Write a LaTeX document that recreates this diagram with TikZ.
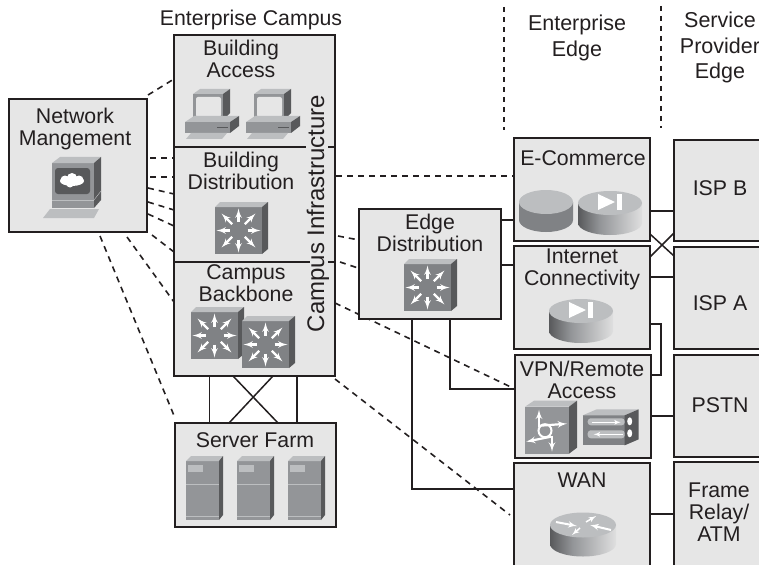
\documentclass[tikz,border=0pt]{standalone}
\usepackage{fontspec}
\setmainfont{Liberation Sans}
\usepackage{tikz}
\usetikzlibrary{arrows, backgrounds}

\definecolor{ink}{HTML}{231F20}
\definecolor{panel}{HTML}{E6E6E6}
\definecolor{face}{HTML}{939598}
\definecolor{swface}{HTML}{808285}
\definecolor{lid}{HTML}{BCBEC0}
\definecolor{flank}{HTML}{58595B}
\pgfdeclarehorizontalshading{cylshade}{100bp}{color(0bp)=(flank); color(25bp)=(flank); color(42bp)=(face); color(78bp)=(panel); color(88bp)=(face); color(100bp)=(flank)}

\begin{document}
\begin{tikzpicture}[x=1pt,y=-1pt]
        \tikzset{box/.style = {shape=rectangle,draw=ink,fill=panel,line width=1.8pt,inner sep=0pt,outer sep=0pt}}
        \tikzset{txt/.style = {text=ink,align=center,inner sep=0pt,font=\fontsize{21.3}{22}\selectfont}}
        \tikzset{toptxt/.style = {txt,font=\fontsize{21.5}{25.5}\selectfont}}
        \tikzset{edge/.style = {-,draw=ink,line width=1.7pt}}
        \tikzset{thin edge/.style = {-,draw=ink,line width=1.5pt}}
        \tikzset{link/.style = {-,draw=ink,line width=1.6pt,dash pattern=on 6pt off 5pt}}
        \tikzset{spoke/.style = {-latex',draw=white,line width=2.2pt}}
        \tikzset{switchicon/.pic = {
            \fill[swface] (0,5) rectangle (47,52);
            \fill[lid] (0,5) -- (5,0) -- (53,0) -- (47,5) -- cycle;
            \fill[flank] (47,5) -- (53,0) -- (53,47) -- (47,52) -- cycle;
            \draw[spoke] (23.5,28.5) ++(0:9) -- ++(0:13);
            \draw[spoke] (23.5,28.5) ++(45:9) -- ++(45:15);
            \draw[spoke] (23.5,28.5) ++(90:9) -- ++(90:13);
            \draw[spoke] (23.5,28.5) ++(135:9) -- ++(135:15);
            \draw[spoke] (23.5,28.5) ++(180:9) -- ++(180:13);
            \draw[spoke] (23.5,28.5) ++(225:9) -- ++(225:15);
            \draw[spoke] (23.5,28.5) ++(270:9) -- ++(270:13);
            \draw[spoke] (23.5,28.5) ++(315:9) -- ++(315:15);
        }}
        \tikzset{pcicon/.pic = {
            \fill[face] (8,5) rectangle (38,31);
            \fill[lid] (8,5) -- (15,0) -- (45,0) -- (38,5) -- cycle;
            \fill[flank] (38,5) -- (45,0) -- (45,24) -- (38,31) -- cycle;
            \fill[panel,rounded corners=2pt] (11,8) rectangle (36,28);
            \fill[face] (0,33) rectangle (45,44);
            \fill[lid] (0,33) -- (9,27) -- (54,27) -- (45,33) -- cycle;
            \fill[flank] (45,33) -- (54,27) -- (54,37) -- (45,44) -- cycle;
            \fill[flank] (32,38) rectangle (43,39.5);
            \fill[lid] (1,50) -- (6,44) -- (42,44) -- (37,50) -- cycle;
        }}
        \tikzset{nmsicon/.pic = {
            \fill[face] (9,6) rectangle (51,51);
            \fill[lid] (9,6) -- (17,0) -- (58,0) -- (51,6) -- cycle;
            \fill[flank] (51,6) -- (58,0) -- (58,43) -- (51,51) -- cycle;
            \fill[flank,rounded corners=3pt] (12,11) rectangle (47,37);
            \draw[lid] (9,43) -- (51,43);
            \draw[lid] (51,43) -- (58,34);
            \fill[white] (29,24) ellipse [x radius=12pt,y radius=5pt];
            \fill[white] (22,23) circle [radius=4.5pt];
            \fill[white] (29,21) circle [radius=5pt];
            \fill[white] (36,23) circle [radius=4.5pt];
            \fill[white] (27,27) circle [radius=3.5pt];
            \fill[lid] (0,61) -- (7,52) -- (56,52) -- (51,61) -- cycle;
        }}
        \tikzset{servericon/.pic = {
            \fill[face] (0,5) rectangle (33,64);
            \fill[lid] (0,5) -- (5,0) -- (37,0) -- (33,5) -- cycle;
            \fill[flank] (33,5) -- (37,0) -- (37,59) -- (33,64) -- cycle;
            \fill[lid] (2,9) rectangle (17,16);
            \draw[lid,line width=0.8pt] (0,28) -- (33,28);
            \draw[lid,line width=0.8pt] (0,60) -- (33,60);
        }}
        \tikzset{diskicon/.pic = {
            \fill[swface] (-27,0) -- (-27,18) arc[start angle=180,end angle=360,x radius=27pt,y radius=12pt] -- (27,0) -- cycle;
            \fill[lid] (0,0) ellipse [x radius=27pt,y radius=12pt];
        }}
        \tikzset{engineicon/.pic = {
            \shade[shading=cylshade] (-32,0) -- (-32,20) arc[start angle=180,end angle=360,x radius=32pt,y radius=12pt] -- (32,0) -- cycle;
            \fill[lid] (0,0) ellipse [x radius=32pt,y radius=12pt];
            \fill[white] (-12,-9) -- (5,-1) -- (-12,7) -- cycle;
            \fill[white] (7,-9) rectangle (12,7);
        }}
        \tikzset{routericon/.pic = {
            \shade[shading=cylshade] (-33,0) -- (-33,19) arc[start angle=180,end angle=360,x radius=33pt,y radius=12.5pt] -- (33,0) -- cycle;
            \fill[lid] (0,0) ellipse [x radius=33pt,y radius=12.5pt];
            \draw[-latex',draw=white,line width=2pt] (-27,-3) -- (-6,1);
            \draw[-latex',draw=white,line width=2pt] (28,5) -- (7,0);
            \draw[-latex',draw=white,line width=1.5pt] (3,-3) -- (13,-9);
            \draw[-latex',draw=white,line width=1.5pt] (-3,3) -- (-11,10);
        }}
        \tikzset{vpnicon/.pic = {
            \fill[face] (0,6) rectangle (44,53);
            \fill[lid] (0,6) -- (9,0) -- (52,0) -- (44,6) -- cycle;
            \fill[flank] (44,6) -- (52,0) -- (52,47) -- (44,53) -- cycle;
            \draw[draw=white,line width=2pt] (20,30) circle [radius=6.5pt];
            \draw[spoke] (14,26) -- (14,9);
            \draw[spoke] (15,25) -- (42,23);
            \draw[spoke] (26,36) -- (1,41);
            \draw[spoke] (27,35) -- (27,51);
        }}
        \tikzset{wallicon/.pic = {
            \fill[swface] (0,6) rectangle (42,36);
            \fill[lid] (0,6) -- (14,0) -- (56,0) -- (42,6) -- cycle;
            \fill[flank] (42,6) -- (56,0) -- (56,30) -- (42,36) -- cycle;
            \fill[lid,rounded corners=3pt] (5,9) rectangle (42,16);
            \fill[lid,rounded corners=3pt] (5,21) rectangle (42,29);
            \draw[-latex',draw=white,line width=1.2pt] (9,13) -- (38,13);
            \draw[-latex',draw=white,line width=1.2pt] (40,25) -- (11,25);
            \fill[white] (47,12) ellipse [x radius=2.5pt,y radius=4pt];
            \fill[white] (47,24) ellipse [x radius=2.5pt,y radius=4pt];
        }}

        \useasboundingbox (0,0) rectangle (759,564);
        \clip (0,0) rectangle (759,564);

        \coordinate (v1) at (504,7);
        \coordinate (v2) at (504,130);
        \coordinate (v3) at (661,6);
        \coordinate (v4) at (661,128);
        \node[box,minimum width=138pt,minimum height=133pt] (nms) at (78,165.5) {};
        \node[box,minimum width=161pt,minimum height=341pt] (campus) at (254.5,205.5) {};
        \node[box,minimum width=161pt,minimum height=104pt] (farm) at (255.5,475) {};
        \node[box,minimum width=142pt,minimum height=110pt] (edgedist) at (430,264) {};
        \node[box,minimum width=136pt,minimum height=103pt] (ecom) at (582,189.5) {};
        \node[box,minimum width=136pt,minimum height=103pt] (inet) at (582,297.5) {};
        \node[box,minimum width=136pt,minimum height=103pt] (vpn) at (583,406.5) {};
        \node[box,minimum width=136pt,minimum height=107pt] (wan) at (582,516.5) {};
        \node[box,minimum width=106pt,minimum height=101pt] (ispb) at (727,190.5) {};
        \node[box,minimum width=106pt,minimum height=102pt] (ispa) at (727,298) {};
        \node[box,minimum width=106pt,minimum height=102pt] (pstn) at (727,406) {};
        \node[box,minimum width=106pt,minimum height=108pt] (frame) at (727,516) {};

        \begin{pgfonlayer}{background}
        \draw[link] ([shift={(0,-73)}]campus.south east) -- ([shift={(0,34)}]vpn.north west);
        \draw[link] ([shift={(0,3)}]campus.south east) -- ([shift={(-4,52)}]wan.north west);
        \end{pgfonlayer}

        \draw[link] ([shift={(1,-4)}]nms.north east) -- ([shift={(0,44)}]campus.north west);
        \draw[link] ([shift={(3,59)}]nms.north east) -- ([shift={(0,123)}]campus.north west);
        \draw[link] ([shift={(3,78)}]nms.north east) -- ([shift={(0,142)}]campus.north west);
        \draw[link] ([shift={(1,89)}]nms.north east) -- ([shift={(0,159)}]campus.north west);
        \draw[link] ([shift={(1,103)}]nms.north east) -- ([shift={(0,175)}]campus.north west);
        \draw[link] ([shift={(1,115)}]nms.north east) -- ([shift={(0,191)}]campus.north west);
        \draw[link] ([shift={(5,136)}]nms.north east) -- ([shift={(0,217)}]campus.north west);
        \draw[link] ([shift={(49,5)}]nms.south) -- ([shift={(0,267)}]campus.north west);
        \draw[link] ([shift={(22,4)}]nms.south) -- ([shift={(0,-5)}]farm.north west);
        \draw[link] ([shift={(1,141)}]campus.north east) -- ([shift={(-1,38)}]ecom.north west);
        \draw[link] ([shift={(3,201)}]campus.north east) -- ([shift={(0,31)}]edgedist.north west);
        \draw[link] ([shift={(5,227)}]campus.north east) -- ([shift={(-1,59)}]edgedist.north west);
        \draw[link,dash pattern=on 5pt off 5pt] (v1) -- (v2);
        \draw[link,dash pattern=on 5pt off 5pt] (v3) -- (v4);

        \draw[edge] ([shift={(0,112)}]campus.north west) -- ([shift={(132,112)}]campus.north west);
        \draw[edge] ([shift={(154,112)}]campus.north west) -- ([shift={(0,112)}]campus.north east);
        \draw[edge] ([shift={(0,227)}]campus.north west) -- ([shift={(136,227)}]campus.north west);
        \draw[edge] ([shift={(154,227)}]campus.north west) -- ([shift={(0,227)}]campus.north east);

        \draw[edge] ([shift={(35.5,0)}]campus.south west) to ([shift={(34.5,0)}]farm.north west);
        \draw[edge] ([shift={(123,0)}]campus.south west) to ([shift={(122,0)}]farm.north west);
        \draw[thin edge] ([shift={(59,0)}]campus.south west) to ([shift={(103,0)}]farm.north west);
        \draw[thin edge] ([shift={(99,0)}]campus.south west) to ([shift={(54,0)}]farm.north west);

        \draw[edge] ([shift={(0,11)}]edgedist.north east) to ([shift={(0,82)}]ecom.north west);
        \draw[edge] ([shift={(0,56)}]edgedist.north east) to ([shift={(0,19)}]inet.north west);
        \draw[edge] ([shift={(91,0)}]edgedist.south west) |- ([shift={(0,34)}]vpn.north west);
        \draw[edge] ([shift={(53,0)}]edgedist.south west) |- ([shift={(0,26)}]wan.north west);
        \draw[edge] ([shift={(0,73)}]ecom.north east) to ([shift={(0,71)}]ispb.north west);
        \draw[thin edge] ([shift={(0,96)}]ecom.north east) to ([shift={(0,9)}]ispa.north west);
        \draw[thin edge] ([shift={(0,11)}]inet.north east) to ([shift={(0,93)}]ispb.north west);
        \draw[edge] ([shift={(0,31)}]inet.north east) to ([shift={(0,30)}]ispa.north west);
        \draw[edge] ([shift={(0,78)}]inet.north east) -- ++(11,0) |- ([shift={(0,20)}]vpn.north east);
        \draw[edge] ([shift={(0,61)}]vpn.north east) to ([shift={(0,61)}]pstn.north west);
        \draw[edge] ([shift={(0,51)}]wan.north east) to ([shift={(0,52)}]frame.north west);

        \pic (pc1) at (185,89) {pcicon};
        \pic (pc2) at (246,89) {pcicon};
        \pic (nmspc) at (43,157) {nmsicon};
        \pic (sw1) at (215,202) {switchicon};
        \pic (sw2) at (191,307) {switchicon};
        \pic (sw3) at (242,316) {switchicon};
        \pic (sw4) at (404,259) {switchicon};
        \pic (srv1) at (186,456) {servericon};
        \pic (srv2) at (237,456) {servericon};
        \pic (srv3) at (288,456) {servericon};
        \pic (disk1) at (546,202) {diskicon};
        \pic (eng1) at (610,203) {engineicon};
        \pic (eng2) at (581,311) {engineicon};
        \pic (vpn1) at (525,400.7) {vpnicon};
        \pic (vpn2) at (582.7,409.3) {wallicon};
        \pic (rt1) at (583,525) {routericon};

        \node[txt] (t1) at (251,20) {Enterprise Campus};
        \node[txt] (t2) at (241,59) {Building\\Access};
        \node[txt] (t3) at (75,129) {Network\\Mangement};
        \node[txt] (t4) at (241,170.5) {Building\\Distribution};
        \node[txt] (t5) at (246,283.5) {Campus\\Backbone};
        \node[txt] (t6) at (255,440) {Server Farm};
        \node[txt,rotate=90,font=\fontsize{24}{24}\selectfont] (t7) at (318,213.5) {Campus Infrastructure};
        \node[txt] (t8) at (430,232.5) {Edge\\Distribution};
        \node[txt] (t9) at (583,158) {E-Commerce};
        \node[txt] (t10) at (582,269.5) {Internet\\Connectivity};
        \node[txt] (t11) at (582,379.5) {VPN/Remote\\Access};
        \node[txt] (t12) at (582,480) {WAN};
        \node[txt] (t13) at (719,512) {Frame\\Relay/\\ATM};
        \node[txt] (t14) at (720,188) {ISP B};
        \node[txt] (t15) at (720,303) {ISP A};
        \node[txt] (t16) at (720,405) {PSTN};
        \node[toptxt] (t17) at (577,38) {Enterprise\\Edge};
        \node[toptxt] (t18) at (720,47.5) {Service\\Provider\\Edge};
\end{tikzpicture}
\end{document}
